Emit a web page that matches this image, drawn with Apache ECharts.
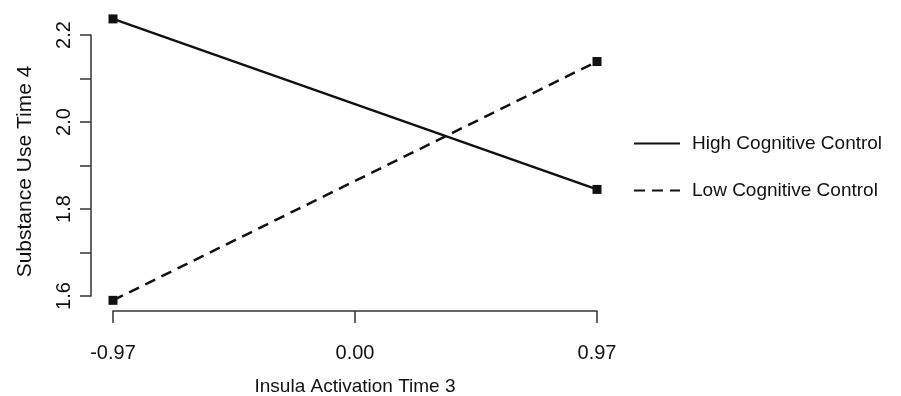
<!DOCTYPE html>
<html>
<head>
<meta charset="utf-8">
<script src="https://cdn.jsdelivr.net/npm/echarts@6/dist/echarts.min.js"></script>
<style>
html, body { margin: 0; padding: 0; background: #fff; }
#chart { width: 901px; height: 396px; }
</style>
</head>
<body>
<div id="chart"></div>
<script>
// insula activation (x) at -1 SD / +1 SD
var xValues = [-0.97, 0.97];
var highControl = [2.237, 1.845];
var lowControl = [1.59, 2.139];
var seriesNames = ['High Cognitive Control', 'Low Cognitive Control'];
var yLabelTicks = [1.6, 1.8, 2.0, 2.2];

var font = 'Liberation Sans, Arial, Helvetica, sans-serif';
var ink = '#111';

function pairs(ys) {
	return xValues.map(function (x, i) { return [x, ys[i]]; });
}

var myChart = echarts.init(document.getElementById('chart'));
var option = {
	animation: false,
	backgroundColor: '#fff',
	grid: { left: 113, right: 304, top: 35, bottom: 100, outerBoundsMode: 'none' },
	legend: {
		orient: 'vertical',
		left: 628,
		top: 129,
		itemWidth: 46,
		itemHeight: 14,
		itemGap: 28,
		itemStyle: { opacity: 0 },
		textStyle: { fontFamily: font, fontSize: 19, color: ink, padding: [0, 0, 0, 7] },
		data: seriesNames
	},
	xAxis: {
		type: 'value',
		min: -0.97,
		max: 0.97,
		interval: 0.97,
		offset: 15,
		name: 'Insula Activation Time 3',
		nameLocation: 'middle',
		nameGap: 66,
		nameTextStyle: { fontFamily: font, fontSize: 19, color: ink },
		axisLine: { show: true, onZero: false, lineStyle: { color: '#333', width: 1.5 } },
		axisTick: { show: true, length: 12, lineStyle: { color: '#333', width: 1.5 } },
		axisLabel: {
			margin: 32,
			fontFamily: font, fontSize: 20, color: ink,
			formatter: function (v) { return v.toFixed(2); }
		},
		splitLine: { show: false }
	},
	yAxis: {
		type: 'value',
		min: 1.6,
		max: 2.2,
		interval: 0.1,
		offset: 22,
		name: 'Substance Use Time 4',
		nameLocation: 'middle',
		nameGap: 55,
		nameTextStyle: { fontFamily: font, fontSize: 21, color: ink, padding: [0, 12, 0, 0] },
		axisLine: { show: true, onZero: false, lineStyle: { color: '#333', width: 1.5 } },
		axisTick: { show: true, length: 11, lineStyle: { color: '#333', width: 1.5 } },
		axisLabel: {
			rotate: 90,
			margin: 17,
			fontFamily: font, fontSize: 20, color: ink,
			formatter: function (v) {
				var r = Math.round(v * 10) / 10;
				return yLabelTicks.indexOf(r) >= 0 ? r.toFixed(1) : '';
			}
		},
		splitLine: { show: false }
	},
	series: [
		{
			name: seriesNames[0],
			type: 'line',
			clip: false,
			data: pairs(highControl),
			symbol: 'rect',
			symbolSize: 9,
			itemStyle: { color: ink },
			lineStyle: { color: ink, width: 2.5 }
		},
		{
			name: seriesNames[1],
			type: 'line',
			clip: false,
			data: pairs(lowControl),
			symbol: 'rect',
			symbolSize: 9,
			itemStyle: { color: ink },
			lineStyle: { color: ink, width: 2.5, type: [11, 7] }
		}
	]
};
myChart.setOption(option);
</script>
</body>
</html>
